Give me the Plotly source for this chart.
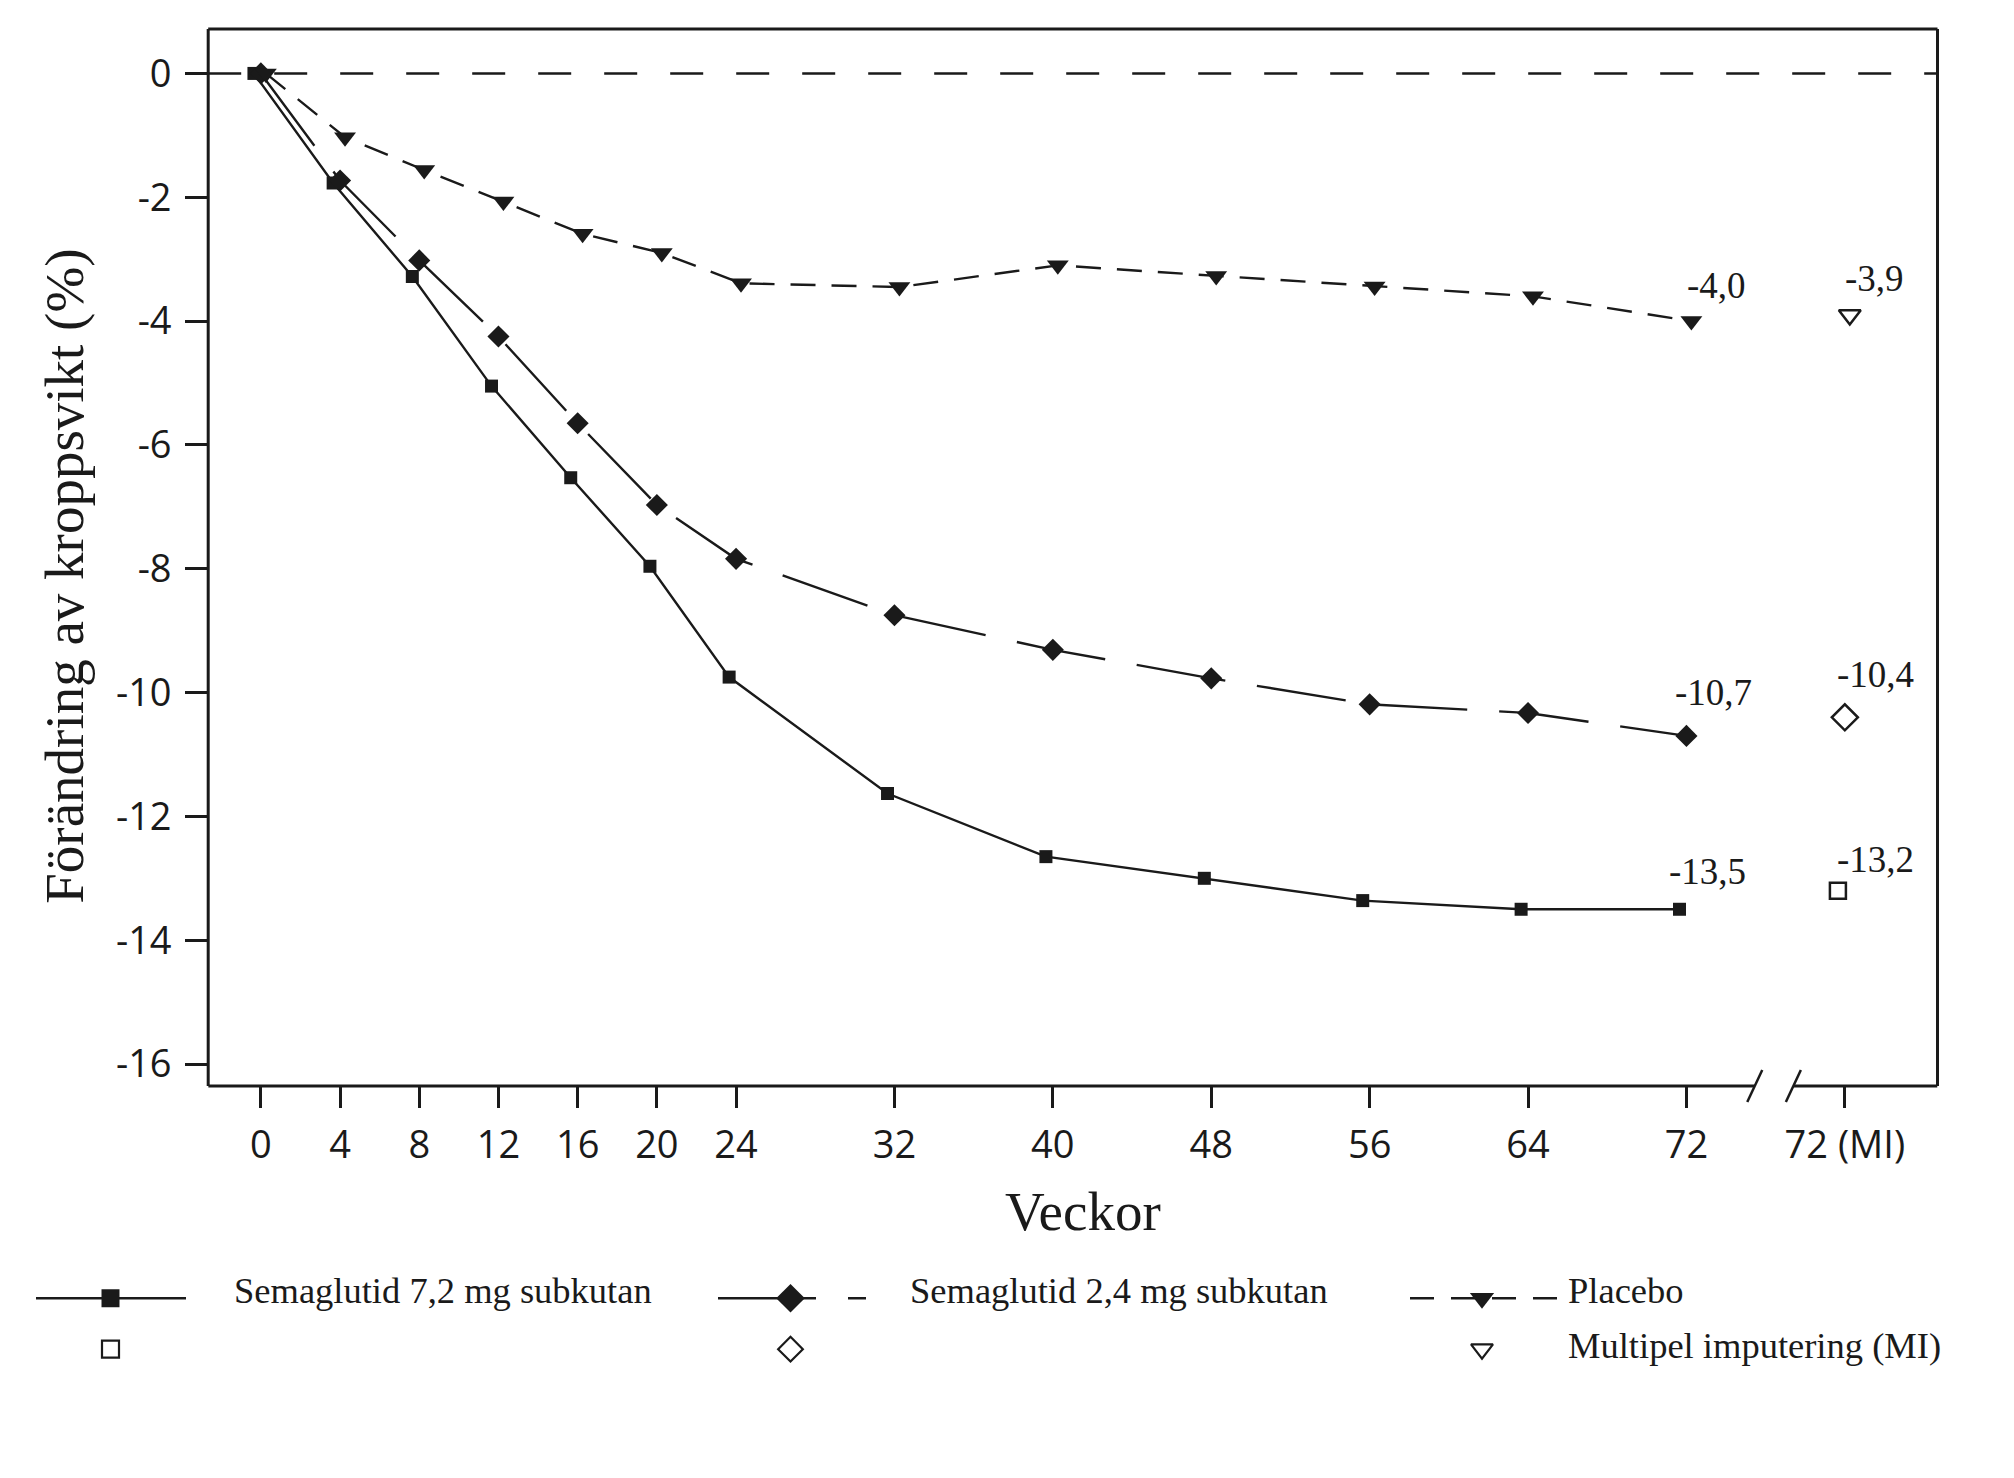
import plotly.graph_objects as go

# ---------------- data ----------------
weeks = [0, 4, 8, 12, 16, 20, 24, 32, 40, 48, 56, 64, 72]
sema_72 = [0, -1.77, -3.28, -5.05, -6.53, -7.96, -9.75, -11.63, -12.65, -13.0, -13.36, -13.5, -13.5]
sema_24 = [0, -1.73, -3.02, -4.25, -5.65, -6.97, -7.84, -8.75, -9.31, -9.77, -10.19, -10.33, -10.7]
placebo = [0, -1.03, -1.56, -2.07, -2.59, -2.90, -3.39, -3.45, -3.10, -3.27, -3.44, -3.60, -4.0]

mi_week = 80          # position of the "72 (MI)" category on the axis
mi_sema_72 = -13.2
mi_sema_24 = -10.4
mi_placebo = -3.9

x_tickvals = [0, 4, 8, 12, 16, 20, 24, 32, 40, 48, 56, 64, 72, 80]
x_ticktext = ["0", "4", "8", "12", "16", "20", "24", "32", "40", "48", "56", "64", "72", "72 (MI)"]
y_tickvals = [0, -2, -4, -6, -8, -10, -12, -14, -16]
y_ticktext = ["0", "-2", "-4", "-6", "-8", "-10", "-12", "-14", "-16"]

series_names = ["Semaglutid 7,2 mg subkutan", "Semaglutid 2,4 mg subkutan", "Placebo"]
mi_name = "Multipel imputering (MI)"
x_title = "Veckor"
y_title = "Förändring av kroppsvikt (%)"

# ---------------- layout constants ----------------
W, H = 2014, 1478
PL, PR, PT, PB = 200.2, 1929.5, 21, 1079.5
XR = [-2.66, 84.68]
YR = [-16.355, 0.718]
BREAK_L, BREAK_R = 75.45, 77.40
SERIF = "Liberation Serif"
SANS = "Open Sans"
BLACK = "#1a1a1a"

def fmt(v):
    return f"{v:.1f}".replace(".", ",")

fig = go.Figure()

# main series (small horizontal jitter as in the original)
offs = [-0.35, 0.0, 0.25]
specs = [
    (sema_72, "square", 13, "solid", mi_sema_72, "square-open", 16),
    (sema_24, "diamond", 17, "90px,32px", mi_sema_24, "diamond-open", 20),
    (placebo, "triangle-down", 19, "25px,16px", mi_placebo, "triangle-down-open", 19),
]
for (vals, sym, sz, dash, miv, misym, misz), off, name in zip(specs, offs, series_names):
    fig.add_trace(go.Scatter(
        x=[w + off for w in weeks], y=vals, mode="lines+markers", name=name,
        line=dict(color=BLACK, width=2.4, dash=dash),
        marker=dict(symbol=sym, size=sz, color=BLACK, line=dict(width=0)),
        showlegend=False, xaxis="x", yaxis="y", cliponaxis=False))
    fig.add_trace(go.Scatter(
        x=[mi_week + off], y=[miv], mode="markers", name=name + " (MI)",
        marker=dict(symbol=misym, size=misz, color=BLACK, line=dict(width=2.5, color=BLACK)),
        showlegend=False, xaxis="x", yaxis="y", cliponaxis=False))

# ---------------- custom legend (overlay pixel axes) ----------------
ROW1, ROW2 = 1292, 1343
TROW1, TROW2 = 1284, 1339
leg = [
    # (x0, x1, marker x, dash, filled symbol, size, open symbol, open size)
    (28, 178, 102.5, "solid", "square", 18, "square-open", 17),
    (710, 858, 782.5, "98px,32px", "diamond", 22, "diamond-open", 19),
    (1402, 1550, 1474, "24px,17px", "triangle-down", 21, "triangle-down-open", 19),
]
for x0, x1, xm, dash, sym, sz, osym, osz in leg:
    fig.add_trace(go.Scatter(x=[x0, x1], y=[ROW1, ROW1], mode="lines",
                             line=dict(color=BLACK, width=2.5, dash=dash),
                             showlegend=False, xaxis="x2", yaxis="y2", hoverinfo="skip"))
    fig.add_trace(go.Scatter(x=[xm], y=[ROW1], mode="markers",
                             marker=dict(symbol=sym, size=sz, color=BLACK),
                             showlegend=False, xaxis="x2", yaxis="y2", hoverinfo="skip"))
    fig.add_trace(go.Scatter(x=[xm], y=[ROW2], mode="markers",
                             marker=dict(symbol=osym, size=osz, color=BLACK,
                                         line=dict(width=2.2, color=BLACK)),
                             showlegend=False, xaxis="x2", yaxis="y2", hoverinfo="skip"))

annotations = []
for txt, xt, yt in [(series_names[0], 224, TROW1), (series_names[1], 900, TROW1),
                    (series_names[2], 1558, TROW1), (mi_name, 1558, TROW2)]:
    annotations.append(dict(text=txt, x=xt, y=yt, xref="x2", yref="y2",
                            xanchor="left", yanchor="middle", showarrow=False,
                            font=dict(family=SERIF, size=36.5, color=BLACK)))

# value labels
lab = [
    (72, sema_72[-1], 21, 38), (72, sema_24[-1], 27, 43), (72, placebo[-1], 30, 36),
    (mi_week, mi_sema_72, 31, 31), (mi_week, mi_sema_24, 31, 43), (mi_week, mi_placebo, 30, 36),
]
for xv, yv, dx, dy in lab:
    annotations.append(dict(text=fmt(yv), x=xv, y=yv, xref="x", yref="y",
                            xshift=dx, yshift=dy, showarrow=False,
                            xanchor="center", yanchor="middle",
                            font=dict(family=SERIF, size=37, color=BLACK)))

# axis titles
annotations.append(dict(text=x_title, x=1075 / W, y=1 - 1205 / H, xref="paper", yref="paper",
                        showarrow=False, xanchor="center", yanchor="middle",
                        font=dict(family=SERIF, size=55, color=BLACK)))
annotations.append(dict(text=y_title, x=56.5 / W, y=1 - 569 / H, xref="paper", yref="paper",
                        showarrow=False, xanchor="center", yanchor="middle", textangle=-90,
                        font=dict(family=SERIF, size=55, color=BLACK)))

# ---------------- shapes: frame, broken bottom axis, zero line ----------------
LW = 3
shapes = [
    dict(type="line", xref="x domain", yref="y", x0=0, x1=1, y0=0, y1=0,
         line=dict(color=BLACK, width=2.5, dash="33px,33px"), layer="below"),
    dict(type="line", xref="x domain", yref="y domain", x0=0, x1=1, y0=1, y1=1,
         line=dict(color=BLACK, width=LW)),
    dict(type="line", xref="x domain", yref="y domain", x0=0, x1=0, y0=0, y1=1,
         line=dict(color=BLACK, width=LW)),
    dict(type="line", xref="x domain", yref="y domain", x0=1, x1=1, y0=0, y1=1,
         line=dict(color=BLACK, width=LW)),
    dict(type="line", xref="x", yref="y domain", x0=XR[0], x1=BREAK_L, y0=0, y1=0,
         line=dict(color=BLACK, width=LW)),
    dict(type="line", xref="x", yref="y domain", x0=BREAK_R, x1=XR[1], y0=0, y1=0,
         line=dict(color=BLACK, width=LW)),
]
for xb in (BREAK_L, BREAK_R):
    shapes.append(dict(type="line", xref="x", yref="y domain",
                       xsizemode="pixel", xanchor=xb, x0=-7.5, x1=7.5,
                       ysizemode="pixel", yanchor=0, y0=-16, y1=16,
                       line=dict(color=BLACK, width=2.5)))

fig.update_layout(
    width=W, height=H, autosize=False,
    margin=dict(l=0, r=0, t=0, b=0, pad=0),
    paper_bgcolor="white", plot_bgcolor="rgba(0,0,0,0)",
    showlegend=False,
    xaxis=dict(domain=[PL / W, PR / W], range=XR, anchor="y",
               showline=False, showgrid=False, zeroline=False,
               tickmode="array", tickvals=x_tickvals, ticktext=x_ticktext,
               ticks="outside", ticklen=21, tickwidth=2.5, tickcolor=BLACK,
               ticklabelstandoff=4,
               tickfont=dict(family=SANS, size=38, color=BLACK)),
    yaxis=dict(domain=[1 - PB / H, 1 - PT / H], range=YR, anchor="x",
               showline=False, showgrid=False, zeroline=False,
               tickmode="array", tickvals=y_tickvals, ticktext=y_ticktext,
               ticks="outside", ticklen=22, tickwidth=2.5, tickcolor=BLACK,
               ticklabelstandoff=6,
               tickfont=dict(family=SANS, size=38, color=BLACK)),
    xaxis2=dict(domain=[0, 1], range=[0, W], anchor="y2", visible=False, fixedrange=True),
    yaxis2=dict(domain=[0, 1], range=[H, 0], anchor="x2", visible=False, fixedrange=True),
    annotations=annotations,
    shapes=shapes,
)

fig.write_html("out.html")
